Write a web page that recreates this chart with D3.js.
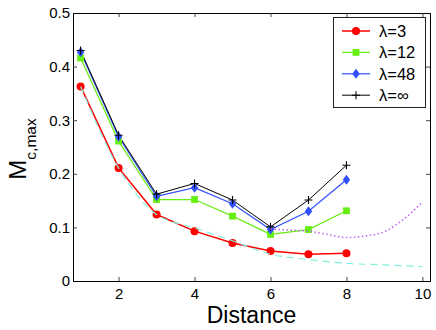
<!DOCTYPE html>
<html>
<head>
<meta charset="utf-8">
<script src="https://cdn.jsdelivr.net/npm/d3@7"></script>
<style>
  body { margin: 0; background: #fff; }
  svg { display: block; font-family: "Liberation Sans", Arial, Helvetica, sans-serif; }
</style>
</head>
<body>
<svg id="chart" width="436" height="330"></svg>
<script>
// values
var distance = [1, 2, 3, 4, 5, 6, 7, 8];
var lambda3   = [0.363, 0.211, 0.124, 0.093, 0.071, 0.056, 0.050, 0.052];
var lambda12  = [0.416, 0.261, 0.152, 0.152, 0.121, 0.087, 0.096, 0.131];
var lambda48  = [0.427, 0.269, 0.158, 0.174, 0.144, 0.096, 0.130, 0.189];
var lambdaInf = [0.430, 0.272, 0.162, 0.182, 0.151, 0.101, 0.151, 0.216];

var fitDistance = [1, 2, 3, 4, 5, 6, 7, 8, 9, 10];
var fitDashed   = [0.363, 0.211, 0.124, 0.099, 0.075, 0.050, 0.040, 0.033, 0.030, 0.027];

var dotDistance = [6, 6.5, 7, 7.5, 8, 8.5, 9, 9.5, 10];
var dotValues   = [0.097, 0.095, 0.093, 0.087, 0.081, 0.084, 0.092, 0.115, 0.147];

var xTicks = [2, 4, 6, 8, 10];
var yTicks = [0, 0.1, 0.2, 0.3, 0.4, 0.5];
var seriesNames = ["\u03bb=3", "\u03bb=12", "\u03bb=48", "\u03bb=\u221e"];

// plot box (note: "top" is taken by window.top)
var pLeft = 73, pRight = 430, pTop = 13, pBottom = 281;

var svg = d3.select("#chart");

var x = d3.scaleLinear().domain([0.8, 10.2]).range([pLeft, pRight]);
var y = d3.scaleLinear().domain([0, 0.5]).range([pBottom, pTop]);

var series = [
  {name: seriesNames[0], values: lambda3,   color: "#ff0000", marker: "circle", width: 1.5},
  {name: seriesNames[1], values: lambda12,  color: "#66ee11", marker: "square", width: 1.2},
  {name: seriesNames[2], values: lambda48,  color: "#3050ff", marker: "diamond", width: 1.2},
  {name: seriesNames[3], values: lambdaInf, color: "#000000", marker: "plus", width: 1}
];

var line = d3.line()
    .x(function(d) { return x(d[0]); })
    .y(function(d) { return y(d[1]); });

var smooth = d3.line()
    .curve(d3.curveMonotoneX)
    .x(function(d) { return x(d[0]); })
    .y(function(d) { return y(d[1]); });

// axes (ticks point inward, box on)
var fmtY = function(d) { return d === 0 ? "0" : d3.format(".1f")(d); };

svg.append("g")
    .attr("transform", "translate(" + pLeft + ",0)")
    .call(d3.axisLeft(y).tickValues(yTicks).tickFormat(fmtY).tickSize(-4).tickPadding(3))
    .call(function(g) { g.selectAll("text").attr("font-size", 15).attr("font-family", null); });

svg.append("g")
    .attr("transform", "translate(" + pRight + ",0)")
    .call(d3.axisRight(y).tickValues(yTicks).tickFormat("").tickSize(-4));

svg.append("g")
    .attr("transform", "translate(0," + pBottom + ")")
    .call(d3.axisBottom(x).tickValues(xTicks).tickFormat(d3.format("d")).tickSize(-4).tickPadding(7))
    .call(function(g) { g.selectAll("text").attr("font-size", 15).attr("font-family", null); });

svg.append("g")
    .attr("transform", "translate(0," + pTop + ")")
    .call(d3.axisTop(x).tickValues(xTicks).tickFormat("").tickSize(-4));

svg.selectAll(".domain").attr("stroke", "#000");
svg.selectAll(".tick line").attr("stroke", "#444");

// data lines
series.forEach(function(s) {
  var pts = distance.map(function(d, i) { return [d, s.values[i]]; });
  svg.append("path")
      .datum(pts)
      .attr("fill", "none")
      .attr("stroke", s.color)
      .attr("stroke-width", s.width)
      .attr("d", line);
});

function drawMarker(g, type, color, cx, cy) {
  if (type === "circle") {
    g.append("circle").attr("cx", cx).attr("cy", cy).attr("r", 4).attr("fill", color);
  } else if (type === "square") {
    g.append("rect").attr("x", cx - 3.4).attr("y", cy - 3.4).attr("width", 6.8).attr("height", 6.8).attr("fill", color);
  } else if (type === "diamond") {
    g.append("path")
        .attr("d", "M" + cx + "," + (cy - 5) + "L" + (cx + 3.7) + "," + cy + "L" + cx + "," + (cy + 5) + "L" + (cx - 3.7) + "," + cy + "Z")
        .attr("fill", color);
  } else {
    g.append("path")
        .attr("d", "M" + (cx - 4) + "," + cy + "H" + (cx + 4) + "M" + cx + "," + (cy - 4) + "V" + (cy + 4))
        .attr("stroke", color).attr("stroke-width", 1.1);
  }
}

series.forEach(function(s) {
  var g = svg.append("g");
  distance.forEach(function(d, i) {
    drawMarker(g, s.marker, s.color, x(d), y(s.values[i]));
  });
});

// fitted curves
svg.append("path")
    .datum(fitDistance.map(function(d, i) { return [d, fitDashed[i]]; }))
    .attr("fill", "none")
    .attr("stroke", "#7ff0dc")
    .attr("stroke-width", 1.2)
    .attr("stroke-dasharray", "7,5")
    .attr("d", smooth);

svg.append("path")
    .datum(dotDistance.map(function(d, i) { return [d, dotValues[i]]; }))
    .attr("fill", "none")
    .attr("stroke", "#c060f0")
    .attr("stroke-width", 1.5)
    .attr("stroke-dasharray", "1.5,2.5")
    .attr("d", smooth);

// legend
var legend = svg.append("g");
legend.append("rect")
    .attr("x", 333.5).attr("y", 17.5)
    .attr("width", 92).attr("height", 90)
    .attr("fill", "#fff").attr("stroke", "#222");

series.forEach(function(s, i) {
  var ly = 31 + i * 21.4;
  legend.append("line")
      .attr("x1", 342).attr("x2", 370).attr("y1", ly).attr("y2", ly)
      .attr("stroke", s.color).attr("stroke-width", s.width);
  drawMarker(legend, s.marker, s.color, 356, ly);
  legend.append("text")
      .attr("x", 379).attr("y", ly + 6)
      .attr("font-size", 16.5)
      .text(s.name);
});

// axis labels
svg.append("text")
    .attr("x", (pLeft + pRight) / 2)
    .attr("y", 323)
    .attr("text-anchor", "middle")
    .attr("font-size", 23)
    .text("Distance");

var yl = svg.append("text")
    .attr("transform", "translate(26,149) rotate(-90)")
    .attr("text-anchor", "middle");
yl.append("tspan").attr("font-size", 24).text("M");
yl.append("tspan").attr("font-size", 15.5).attr("dy", 10).text("c,max");
</script>
</body>
</html>
